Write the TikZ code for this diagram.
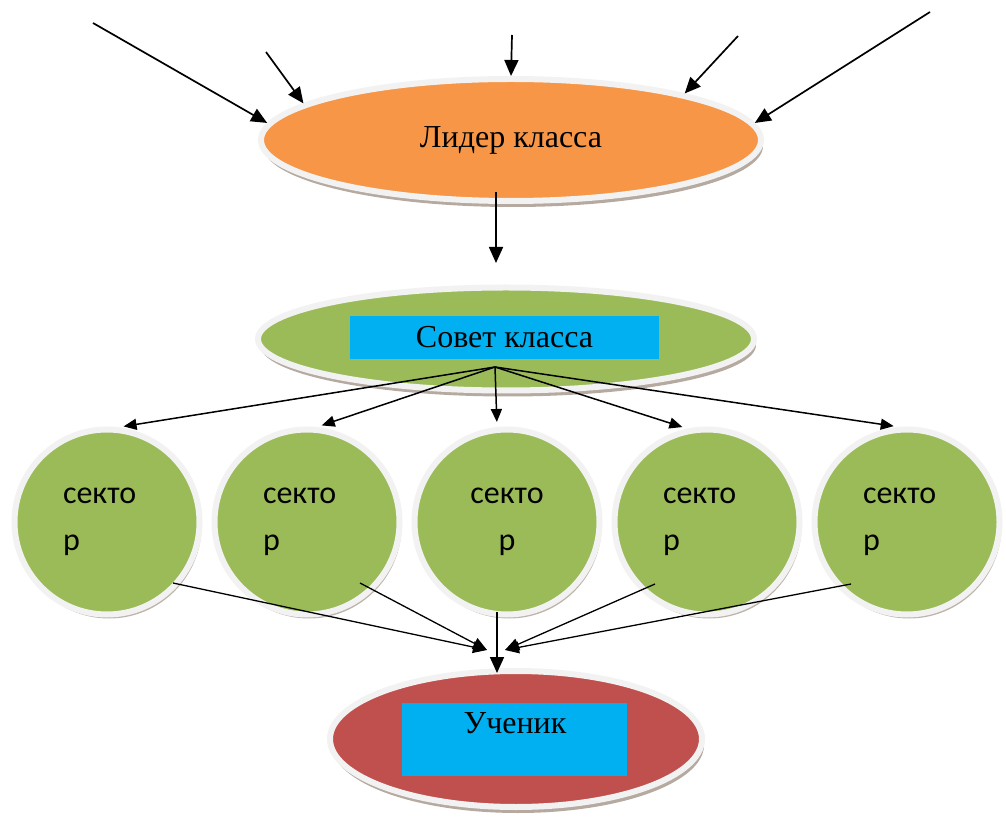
\documentclass[tikz,border=0pt]{standalone}
\usepackage{fontspec}
\setmainfont{Liberation Serif}
\newfontfamily\sectorfont{Carlito}
\usetikzlibrary{shapes.geometric, arrows.meta, shadows}
\definecolor{liderorange}{HTML}{F79646}
\definecolor{sovetgreen}{HTML}{9BBB59}
\definecolor{uchred}{HTML}{C0504D}
\definecolor{boxcyan}{HTML}{00B0F0}
\definecolor{rimgray}{HTML}{F2F2F2}
\definecolor{shadowbrown}{HTML}{A39488}
\tikzset{
  oval/.style={
    ellipse,
    draw=rimgray,
    line width=3pt,
    drop shadow={shadow xshift=1pt, shadow yshift=-3pt, fill=shadowbrown, opacity=0.8}
    },
  sector/.style={
    circle,
    minimum size=92.5pt,
    draw=rimgray,
    line width=3pt,
    fill=sovetgreen,
    drop shadow={shadow xshift=1pt, shadow yshift=-2pt, fill=shadowbrown, opacity=0.7},
    font=\sectorfont\fontsize{16}{23.5}\selectfont,
    text width=44pt,
    align=left
    },
  titlebox/.style={
    rectangle,
    inner sep=0pt,
    fill=boxcyan
    },
  title/.style={font=\fontsize{16}{19}\selectfont},
  arrow/.style={line width=0.85pt,-{Triangle[length=8pt,width=7pt]}},
  fan/.style={line width=0.75pt,shorten >=2.5pt,-{Triangle[length=6.5pt,width=5.5pt]}},
  pil/.style={line width=0.65pt,-{Triangle[length=7pt,width=6pt]}}
}

\begin{document}
\begin{tikzpicture}[x=0.5pt, y=-0.5pt, node distance=100pt]
\useasboundingbox (0,0) rectangle (1006,817);
% ellipses
\node (lider) [oval, fill=liderorange, minimum width=250pt, minimum height=61pt, title] at (511,140) {Лидер класса};
\node (sovet) [oval, fill=sovetgreen, minimum width=248pt, minimum height=51.5pt] at (506,339) {};
\node (sovetbox) [titlebox, minimum width=154.5pt, minimum height=21.5pt, title] at (504.5,337.5) {Совет класса};
% sectors
\node (sec1) [sector] at (107,522) {секто\\р};
\node (sec2) [sector, right of=sec1] {секто\\р};
\node (sec3) [sector, right of=sec2, align=center] {секто\\р};
\node (sec4) [sector, right of=sec3] {секто\\р};
\node (sec5) [sector, right of=sec4] {секто\\р};
\node (uch) [oval, fill=uchred, minimum width=186pt, minimum height=68pt] at (516,739) {};
\node (uchbox) [titlebox, minimum width=112.5pt, minimum height=36.5pt] at (514.5,739.5) {};
\node (uchtext) [title] at (515,723) {Ученик};

\coordinate (in1) at (93,23);
\coordinate (in2) at (266,52);
\coordinate (in3) at (512,35);
\coordinate (in4) at (738,36);
\coordinate (in5) at (930,12);
\coordinate (sovin) at (496,263);
\coordinate (hub) at (495,367);
\coordinate (mergeL) at (487,650);
\coordinate (mergeR) at (505,650);
\coordinate (out1) at ([shift={(66,61)}]sec1.center);
\coordinate (out2) at ([shift={(53,61)}]sec2.center);
\coordinate (out3) at ([shift={(-10,90)}]sec3.center);
\coordinate (out4) at ([shift={(-52,62)}]sec4.center);
\coordinate (out5) at ([shift={(-56,62)}]sec5.center);

% into the leader
\draw [arrow] (in1) -- (lider.176);
\draw [arrow] (in2) -- (lider.170);
\draw [arrow] (in3) -- (lider.north);
\draw [arrow] (in4) -- (lider.15);
\draw [arrow] (in5) -- (lider.4.5);
\draw [arrow, shorten <=-6pt] (sovin |- lider.south) -- (sovin);
% council to sectors
\foreach \s/\a in {sec1/83, sec2/84, sec3/96, sec4/102, sec5/95}
  \draw [fan] (hub) -- (\s.\a);
% sectors to pupil
\foreach \o/\m in {out1/mergeL, out2/mergeL, out4/mergeR, out5/mergeR}
  \draw [pil] (\o) -- (\m);
\draw [arrow, shorten >=-2.5pt] (out3) -- (out3 |- uch.north);
\end{tikzpicture}
\end{document}
